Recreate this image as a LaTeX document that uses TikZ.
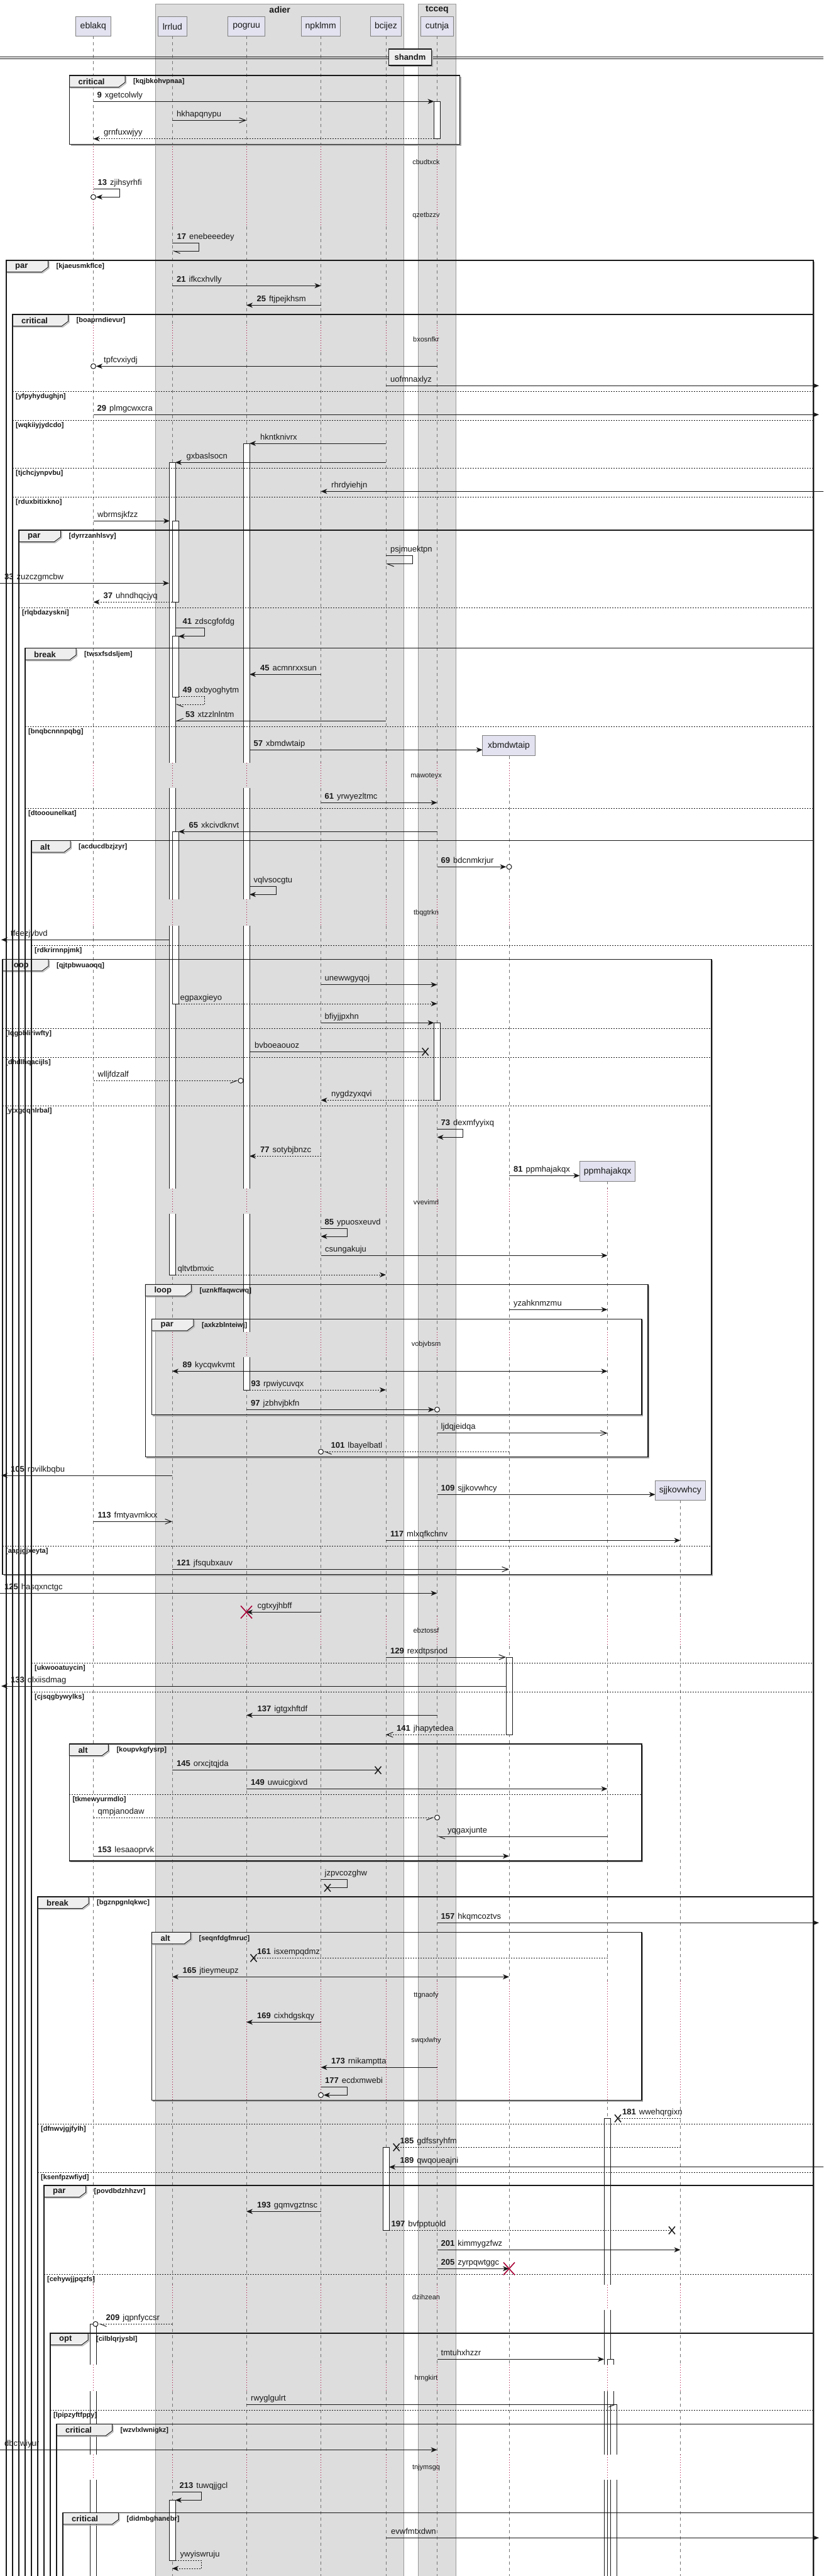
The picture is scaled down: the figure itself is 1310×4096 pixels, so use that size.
\documentclass[tikz,border=0pt]{standalone}
\usepackage{fontspec}
\setmainfont{Liberation Sans}
\usetikzlibrary{arrows.meta}
\definecolor{partfill}{HTML}{E2E2F0}
\definecolor{grpfill}{HTML}{DDDDDD}
\definecolor{tabfill}{HTML}{EEEEEE}
\definecolor{crim}{HTML}{A80036}
\definecolor{ink}{HTML}{181818}
\def\lxE{148.5}\def\lxL{274}\def\lxP{392}\def\lxN{510.5}\def\lxB{614}
\def\lxC{695.5}\def\lxX{810}\def\lxM{966.5}\def\lxS{1082.5}
\tikzset{
  lifeline/.style={draw=black!55, line width=0.6pt, dash pattern=on 5pt off 5pt},
  delayline/.style={draw=crim, line width=0.8pt, dash pattern=on 1pt off 3pt},
  msg/.style={draw=ink, line width=1pt},
  ret/.style={draw=ink, line width=1pt, dash pattern=on 2pt off 2pt},
  fa/.style={-{Stealth[length=10pt,width=8pt,inset=3pt]}},
  fab/.style={{Stealth[length=10pt,width=8pt,inset=3pt]}-{Stealth[length=10pt,width=8pt,inset=3pt]}},
  oa/.style={-{Straight Barb[length=10pt,width=8pt]}},
  ha/.style={-{Straight Barb[harpoon,length=10pt,width=8pt]}},
  hs/.style={-{Straight Barb[harpoon,swap,length=10pt,width=8pt]}},
  mlab/.style={anchor=base west, inner sep=0pt, font=\fontsize{13}{15}\selectfont, text=ink},
  dtext/.style={inner sep=0pt, font=\fontsize{11}{13}\selectfont, text=ink},
  ptext/.style={inner sep=0pt, font=\fontsize{14}{16}\selectfont, text=ink},
  partbox/.style={draw=black!50, line width=1pt, fill=partfill},
  grpbox/.style={draw=black!40, line width=0.8pt, fill=grpfill},
  gtitle/.style={inner sep=0pt, font=\bfseries\fontsize{14}{16}\selectfont, text=ink},
  ftab/.style={anchor=west, inner sep=0pt, font=\bfseries\fontsize{13}{15}\selectfont, text=ink},
  fcond/.style={anchor=west, inner sep=0pt, font=\bfseries\fontsize{11}{13}\selectfont, text=ink},
  actl/.style={draw=ink, line width=0.9pt},
}
\newcommand\SqLife[2]{%
  \foreach \qA/\qB in {57.3/233,360/516.7,560/1213,1253/1430,1472/1890,1930/2118,2158/2570,2617/3150,3340/3633,3673/3760,3802/3903,3943/4120}{%
    \pgfmathsetmacro\lsA{max(\qA,#2)}%
    \pgfmathtruncatemacro\lsOk{\qB>\lsA}%
    \ifnum\lsOk=1 \draw[lifeline] (#1,\lsA) -- (#1,\qB);\fi}%
  \foreach \qA/\qB in {233/360,516.7/560,1213/1253,1430/1472,1890/1930,2118/2158,2570/2617,3150/3340,3633/3673,3760/3802,3903/3943}{%
    \pgfmathsetmacro\lsA{max(\qA,#2)}%
    \pgfmathtruncatemacro\lsOk{\qB>\lsA}%
    \ifnum\lsOk=1 \draw[delayline] (#1,\lsA) -- (#1,\qB);\fi}%
}
\newcommand\SqTab[5]{%
  \draw[black!30, line width=1.2pt] (#1+#4+1.5,#2+2) -- (#1+#4+1.5,#2+12.5) -- (#1+#4-8.5,#2+20) -- (#1+1.5,#2+20);
  \draw[ink, line width=1pt, fill=tabfill] (#1,#2) -- (#1+#4,#2) -- (#1+#4,#2+11) -- (#1+#4-10,#2+18.5) -- (#1,#2+18.5) -- cycle;
  \node[ftab] at (#1+14,#2+10) {#3};
  \node[fcond] at (#1+#4+13,#2+10) {#5};
}
\newcommand\SqFrame[4]{%
  \draw[black!35, line width=1.5pt] (#3+1.5,#2+2) -- (#3+1.5,#4+1.5) -- (#1+2,#4+1.5);
  \draw[ink, line width=1.5pt] (#1,#2) rectangle (#3,#4);
}
\newcommand\SqSep[4]{%
  \draw[ink, line width=0.8pt, dash pattern=on 2pt off 2pt] (#1,#3) -- (#2,#3);
  \node[fcond] at (#1+5,#3+8.5) {#4};
}
\newcommand\SqDelay[2]{\node[dtext] at (678,#1) {#2};}
\newcommand\SqAct[3]{\draw[actl, fill=white] (#1,#2) rectangle (#1+10,#3);}
\newcommand\SqActS[3]{\fill[white] (#1,#2) rectangle (#1+10,#3); \draw[actl] (#1,#2) -- (#1,#3) (#1+10,#2) -- (#1+10,#3);}
\newcommand\SqCap[2]{\draw[actl] (#1,#2) -- (#1+10,#2);}
\newcommand\SqML[3]{\node[mlab] at (#1,#2-6) {#3};}
\newcommand\SqNB[2]{\textbf{#1}\hspace{5pt}#2}
\newcommand\SqX[2]{\draw[ink,line width=1.5pt] (#1-5,#2-6) -- (#1+5,#2+6) (#1-5,#2+6) -- (#1+5,#2-6);}
\newcommand\SqRX[2]{\draw[crim,line width=1.6pt] (#1-9,#2-10) -- (#1+9,#2+10) (#1-9,#2+10) -- (#1+9,#2-10);}
\newcommand\SqO[2]{\draw[ink,line width=1pt,fill=white] (#1,#2) circle[radius=4];}
\newcommand\SqPart[6]{\draw[partbox] (#1,#2) rectangle (#3,#4); \node[ptext] (#6) at ({(#1+#3)/2},{(#2+#4)/2}) {#5};}
\begin{document}
\begin{tikzpicture}[x=1pt,y=-1pt]
\useasboundingbox (0,0) rectangle (1310,4096);
\clip (0,0) rectangle (1310,4096);
\fill[white] (0,0) rectangle (1310,4096);
% group boxes
\draw[grpbox] (247.7,6) rectangle (642.7,4130);
\node[gtitle] (adier) at (445.2,15.5) {adier};
\draw[grpbox] (665.5,6) rectangle (725.6,4130);
\node[gtitle] (tcceq) at (695.5,15.5) {tcceq};
% lifelines
\SqLife{\lxE}{57.3}\SqLife{\lxL}{57.3}\SqLife{\lxP}{57.3}\SqLife{\lxN}{57.3}
\SqLife{\lxB}{57.3}\SqLife{\lxC}{57.3}\SqLife{\lxX}{1201.7}\SqLife{\lxM}{1878.3}\SqLife{\lxS}{2385.3}
% divider
\draw[ink, line width=0.9pt] (0,90) -- (1310,90) (0,93.5) -- (1310,93.5);
\draw[black!35,line width=1.5pt] (688,80) -- (688,105.5) -- (620.5,105.5);
\draw[ink,line width=1.5pt,fill=tabfill] (618.5,78) rectangle (686.4,104);
\node[gtitle, font=\bfseries\fontsize{13}{15}\selectfont] (shandm) at (652.5,91) {shandm};
% activations
\SqAct{690.5}{161.3}{220.7}
\SqActS{387}{705}{1213}\SqCap{387}{705}\SqActS{387}{1253}{1430}\SqActS{387}{1472}{1890}\SqActS{387}{1930}{2118}\SqActS{387}{2158}{2210}\SqCap{387}{2210}
\SqActS{269}{735.3}{1213}\SqCap{269}{735.3}\SqActS{269}{1253}{1430}\SqActS{269}{1472}{1890}\SqActS{269}{1930}{2027}\SqCap{269}{2027}
\SqAct{274}{828.3}{957.3}
\SqAct{274}{1011.7}{1108.3}
\SqActS{274}{1322.3}{1430}\SqCap{274}{1322.3}\SqActS{274}{1472}{1596}\SqCap{274}{1596}
\SqAct{690.5}{1626.3}{1749.3}
\SqAct{805}{2635}{2758.3}
\SqActS{961}{3368.3}{3633}\SqCap{961}{3368.3}\SqActS{961}{3673}{3760}\SqActS{961}{3802}{3903}\SqActS{961}{3943}{4130}
\SqAct{609}{3414.3}{3546.3}
\SqActS{143.5}{3695.3}{3760}\SqCap{143.5}{3695.3}\SqActS{143.5}{3802}{3903}\SqActS{143.5}{3943}{4130}
\SqActS{966}{3751.3}{3760}\SqCap{966}{3751.3}\SqActS{966}{3802}{3903}\SqActS{966}{3943}{4130}
\SqActS{971}{3823.3}{3903}\SqCap{971}{3823.3}\SqActS{971}{3943}{4130}
\SqAct{269}{3975.3}{4071.3}
% frame tabs and separators
\SqTab{110.5}{120}{critical}{88.5}{[kqjbkohvpnaa]}
\SqTab{10}{414}{par}{66.5}{[kjaeusmkflce]}
\SqTab{20}{500}{critical}{88.5}{[boaprndievur]}
\SqSep{20}{1294}{622}{[yfpyhydughjn]}
\SqSep{20}{1294}{668}{[wqkiiyjydcdo]}
\SqSep{20}{1294}{744}{[tjchcjynpvbu]}
\SqSep{20}{1294}{790}{[rduxbitixkno]}
\SqTab{30}{843}{par}{66.5}{[dyrrzanhlsvy]}
\SqSep{30}{1294}{966.3}{[rlqbdazyskni]}
\SqTab{40}{1030.7}{break}{81}{[twsxfsdsljem]}
\SqSep{40}{1294}{1155.3}{[bnqbcnnnpqbg]}
\SqSep{40}{1294}{1285.3}{[dtooounelkat]}
\SqTab{50}{1336.7}{alt}{62}{[acducdbzjzyr]}
\SqSep{50}{1294}{1503}{[rdkrirnnpjmk]}
\SqTab{4}{1525.3}{loop}{73}{[qjtpbwuaoqq]}
\SqSep{4}{1132}{1635}{[lqgobliriwfty]}
\SqSep{4}{1132}{1681}{[dhdlhqacijls]}
\SqSep{4}{1132}{1758.3}{[ytxgdqnlrbal]}
\SqSep{4}{1132}{2458.3}{[aapjgjxeyta]}
\SqTab{231.4}{2042.3}{loop}{73}{[uznkffaqwcwq]}
\SqTab{241.4}{2097.3}{par}{66.5}{[axkzblnteiwj]}
\SqSep{50}{1294}{2644}{[ukwooatuycin]}
\SqSep{50}{1294}{2690.3}{[cjsqgbywylks]}
\SqTab{110.3}{2773}{alt}{62}{[koupvkgfysrp]}
\SqSep{110.3}{1021}{2853.3}{[tkmewyurmdlo]}
\SqTab{60}{3016}{break}{81}{[bgznpgnlqkwc]}
\SqTab{241.4}{3072.3}{alt}{62}{[seqnfdgfmruc]}
\SqSep{60}{1294}{3377.3}{[dfnwvjgjfylh]}
\SqSep{60}{1294}{3454.3}{[ksenfpzwfiyd]}
\SqTab{70}{3475}{par}{66.5}{[povdbdzhhzvr]}
\SqSep{70}{1294}{3616}{[cehywjjpqzfs]}
\SqTab{80}{3710}{opt}{60}{[cilblqrjysbl]}
\SqSep{80}{1294}{3832.3}{[lpipzyftfppy]}
\SqTab{90}{3854.3}{critical}{88.5}{[wzvlxlwnigkz]}
\SqTab{100}{3995.3}{critical}{88.5}{[didmbghanebr]}
% frame borders
\SqFrame{110.5}{120}{731.5}{229.3}
\SqFrame{4}{1525.3}{1132}{2503.3}
\SqFrame{231.4}{2042.3}{1031}{2316.3}
\SqFrame{241.4}{2097.3}{1021}{2249.3}
\SqFrame{110.3}{2773}{1021}{2959}
\SqFrame{241.4}{3072.3}{1021}{3339.3}
\SqFrame{100}{3995.3}{1294}{4130}
\SqFrame{90}{3854.3}{1294}{4130}
\SqFrame{80}{3710}{1294}{4130}
\SqFrame{70}{3475}{1294}{4130}
\SqFrame{60}{3016}{1294}{4130}
\SqFrame{50}{1336.7}{1294}{4130}
\SqFrame{40}{1030.7}{1294}{4130}
\SqFrame{30}{843}{1294}{4130}
\SqFrame{20}{500}{1294}{4130}
\SqFrame{10}{414}{1294}{4130}
% messages
\draw[msg,fa] (\lxE,161.3) -- (690.5,161.3); \SqML{154.5}{161.3}{\SqNB{9}{xgetcolwly}}
\draw[msg,oa] (\lxL,191.3) -- (\lxP,191.3); \SqML{281}{191.3}{hkhapqnypu}
\draw[ret,fa] (690.5,220.7) -- (\lxE,220.7); \SqML{165}{220.7}{grnfuxwjyy}
\SqDelay{258}{cbudtxck}
\draw[msg,fa] (\lxE,300) -- (190.5,300) -- (190.5,313.3) -- (153,313.3); \SqO{\lxE}{313.3} \SqML{155.5}{300}{\SqNB{13}{zjihsyrhfi}}
\SqDelay{343}{qzetbzzv}
\draw[msg,ha] (\lxL,386.7) -- (316.5,386.7) -- (316.5,399) -- (\lxL,399); \SqML{281.5}{386.7}{\SqNB{17}{enebeeedey}}
\draw[msg,fa] (\lxL,454.3) -- (\lxN,454.3); \SqML{281}{454.3}{\SqNB{21}{ifkcxhvlly}}
\draw[msg,fa] (\lxN,485.3) -- (\lxP,485.3); \SqML{408.5}{485.3}{\SqNB{25}{ftjpejkhsm}}
\SqDelay{540}{bxosnfkr}
\draw[msg,fa] (\lxC,582.3) -- (153,582.3); \SqO{\lxE}{582.3} \SqML{165}{582.3}{tpfcvxiydj}
\draw[msg,fa] (\lxB,613.3) -- (1303,613.3); \SqML{621}{613.3}{uofmnaxlyz}
\draw[msg,fa] (\lxE,659.3) -- (1303,659.3); \SqML{154.5}{659.3}{\SqNB{29}{plmgcwxcra}}
\draw[msg,fa] (\lxB,705) -- (397,705); \SqML{414}{705}{hkntknivrx}
\draw[msg,fa] (\lxB,735.3) -- (279,735.3); \SqML{296.5}{735.3}{gxbaslsocn}
\draw[msg,fa] (1315,781.3) -- (\lxN,781.3); \SqML{527}{781.3}{rhrdyiehjn}
\draw[msg,fa] (\lxE,828.3) -- (270,828.3); \SqML{155}{828.3}{wbrmsjkfzz}
\draw[msg,ha] (\lxB,883.3) -- (656,883.3) -- (656,896.7) -- (\lxB,896.7); \SqML{621}{883.3}{psjmuektpn}
\draw[msg,fa] (0,927.3) -- (269,927.3); \SqML{7}{927.3}{\SqNB{33}{zuzczgmcbw}}
\draw[ret,fa] (274,957.3) -- (\lxE,957.3); \SqML{164.5}{957.3}{\SqNB{37}{uhndhqcjyq}}
\draw[msg,fa] (279,998.3) -- (325.8,998.3) -- (325.8,1011.7) -- (284,1011.7); \SqML{290.5}{998.3}{\SqNB{41}{zdscgfofdg}}
\draw[msg,fa] (\lxN,1072.3) -- (397,1072.3); \SqML{414}{1072.3}{\SqNB{45}{acmnrxxsun}}
\draw[ret,ha] (284,1107.7) -- (325.8,1107.7) -- (325.8,1120) -- (279,1120); \SqML{290.5}{1107.7}{\SqNB{49}{oxbyoghytm}}
\draw[msg,hs] (\lxB,1146.3) -- (279,1146.3); \SqML{295}{1146.3}{\SqNB{53}{xtzzlnlntm}}
\draw[msg,fa] (397,1192.3) -- (767.8,1192.3); \SqML{403.5}{1192.3}{\SqNB{57}{xbmdwtaip}}
\SqDelay{1234}{mawoteyx}
\draw[msg,fa] (\lxN,1276.3) -- (\lxC,1276.3); \SqML{516.5}{1276.3}{\SqNB{61}{yrwyezltmc}}
\draw[msg,fa] (\lxC,1322.3) -- (284,1322.3); \SqML{300.5}{1322.3}{\SqNB{65}{xkcivdknvt}}
\draw[msg,fa] (\lxC,1378.3) -- (805.5,1378.3); \SqO{\lxX}{1378.3} \SqML{701.5}{1378.3}{\SqNB{69}{bdcnmkrjur}}
\draw[msg,fa] (397,1409.3) -- (439.4,1409.3) -- (439.4,1422.3) -- (397,1422.3); \SqML{403.5}{1409.3}{vqlvsocgtu}
\SqDelay{1452}{tbqgtrkn}
\draw[msg,fa] (269,1494.3) -- (2,1494.3); \SqML{17}{1494.3}{tfeezjvbvd}
\draw[msg,fa] (\lxN,1565.7) -- (\lxC,1565.7); \SqML{516.5}{1565.7}{unewwgyqoj}
\draw[ret,fa] (284,1596) -- (\lxC,1596); \SqML{286.5}{1596}{egpaxgieyo}
\draw[msg,fa] (\lxN,1626.3) -- (690.5,1626.3); \SqML{516.5}{1626.3}{bfiyjjpxhn}
\draw[msg] (397,1672.3) -- (676.7,1672.3); \SqX{676.7}{1672.3} \SqML{405}{1672.3}{bvboeaouoz}
\draw[ret,hs] (\lxE,1718.3) -- (379,1718.3); \SqO{383}{1718.3} \SqML{155.5}{1718.3}{wlljfdzalf}
\draw[ret,fa] (690.5,1749.3) -- (\lxN,1749.3); \SqML{527}{1749.3}{nygdzyxqvi}
\draw[msg,fa] (\lxC,1795.3) -- (736.8,1795.3) -- (736.8,1808.3) -- (\lxC,1808.3); \SqML{701.5}{1795.3}{\SqNB{73}{dexmfyyixq}}
\draw[ret,fa] (\lxN,1838.3) -- (397,1838.3); \SqML{414}{1838.3}{\SqNB{77}{sotybjbnzc}}
\draw[msg,fa] (\lxX,1869.3) -- (922.3,1869.3); \SqML{817}{1869.3}{\SqNB{81}{ppmhajakqx}}
\SqDelay{1912}{vvevimrl}
\draw[msg,fa] (\lxN,1953.3) -- (552.2,1953.3) -- (552.2,1966) -- (\lxN,1966); \SqML{516.5}{1953.3}{\SqNB{85}{ypuosxeuvd}}
\draw[msg,fa] (\lxN,1996.3) -- (\lxM,1996.3); \SqML{517}{1996.3}{csungakuju}
\draw[ret,fa] (279,2027) -- (\lxB,2027); \SqML{282.5}{2027}{qltvtbmxic}
\draw[msg,fa] (\lxX,2082.3) -- (\lxM,2082.3); \SqML{817}{2082.3}{yzahknmzmu}
\SqDelay{2138}{vobjvbsm}
\draw[msg,fab] (\lxL,2180.3) -- (\lxM,2180.3); \SqML{290.5}{2180.3}{\SqNB{89}{kycqwkvmt}}
\draw[ret,fa] (397,2210) -- (\lxB,2210); \SqML{399.5}{2210}{\SqNB{93}{rpwiycuvqx}}
\draw[msg,fa] (\lxP,2241.3) -- (691,2241.3); \SqO{\lxC}{2241.3} \SqML{399}{2241.3}{\SqNB{97}{jzbhvjbkfn}}
\draw[msg,oa] (\lxC,2278.7) -- (\lxM,2278.7); \SqML{701.5}{2278.7}{ljdqjeidqa}
\draw[ret,ha] (\lxX,2308.3) -- (515,2308.3); \SqO{\lxN}{2308.3} \SqML{526.5}{2308.3}{\SqNB{101}{lbayelbatl}}
\draw[msg,fa] (\lxL,2346) -- (2,2346); \SqML{17}{2346}{\SqNB{105}{rpvilkbqbu}}
\draw[msg,fa] (\lxC,2376.3) -- (1042.6,2376.3); \SqML{701.5}{2376.3}{\SqNB{109}{sjjkovwhcy}}
\draw[msg,oa] (\lxE,2419.3) -- (\lxL,2419.3); \SqML{155.5}{2419.3}{\SqNB{113}{fmtyavmkxx}}
\draw[msg,fa] (\lxB,2449.3) -- (\lxS,2449.3); \SqML{621}{2449.3}{\SqNB{117}{mlxqfkchnv}}
\draw[msg,oa] (\lxL,2495.3) -- (\lxX,2495.3); \SqML{281}{2495.3}{\SqNB{121}{jfsqubxauv}}
\draw[msg,fa] (0,2533.3) -- (\lxC,2533.3); \SqML{7}{2533.3}{\SqNB{125}{hasqxnctgc}}
\draw[msg,fa] (\lxN,2563.3) -- (\lxP,2563.3); \SqRX{\lxP}{2563.3} \SqML{409.5}{2563.3}{cgtxyjhbff}
\SqDelay{2593}{ebztossf}
\draw[msg,oa] (\lxB,2635) -- (805,2635); \SqML{621}{2635}{\SqNB{129}{rexdtpsnod}}
\draw[msg,fa] (805,2681) -- (2,2681); \SqML{17}{2681}{\SqNB{133}{qlxiisdmag}}
\draw[msg,fa] (\lxC,2727.3) -- (\lxP,2727.3); \SqML{409.5}{2727.3}{\SqNB{137}{igtgxhftdf}}
\draw[ret,oa] (815,2758.3) -- (\lxB,2758.3); \SqML{631}{2758.3}{\SqNB{141}{jhapytedea}}
\draw[msg] (\lxL,2814.7) -- (601.5,2814.7); \SqX{601.5}{2814.7} \SqML{281}{2814.7}{\SqNB{145}{orxcjtqjda}}
\draw[msg,fa] (\lxP,2844.3) -- (\lxM,2844.3); \SqML{399}{2844.3}{\SqNB{149}{uwuicgixvd}}
\draw[ret,hs] (\lxE,2890) -- (691,2890); \SqO{\lxC}{2890} \SqML{155.5}{2890}{qmpjanodaw}
\draw[msg,ha] (\lxM,2920) -- (\lxC,2920); \SqML{712}{2920}{yqgaxjunte}
\draw[msg,fa] (\lxE,2951.3) -- (\lxX,2951.3); \SqML{155.5}{2951.3}{\SqNB{153}{lesaaoprvk}}
\draw[msg] (\lxN,2988.3) -- (552.2,2988.3) -- (552.2,3001.7) -- (521,3001.7); \SqX{521}{3001.7} \SqML{516.5}{2988.3}{jzpvcozghw}
\draw[msg,fa] (\lxC,3057.3) -- (1303,3057.3); \SqML{701.5}{3057.3}{\SqNB{157}{hkqmcoztvs}}
\draw[ret] (\lxM,3113.3) -- (403.5,3113.3); \SqX{403.5}{3113.3} \SqML{409}{3113.3}{\SqNB{161}{isxempqdmz}}
\draw[msg,fab] (\lxL,3143.3) -- (\lxX,3143.3); \SqML{290.5}{3143.3}{\SqNB{165}{jtieymeupz}}
\SqDelay{3173}{ttgnaofy}
\draw[msg,fa] (\lxN,3215.3) -- (\lxP,3215.3); \SqML{409}{3215.3}{\SqNB{169}{cixhdgskqy}}
\SqDelay{3245}{swqxlwhy}
\draw[msg,fa] (\lxC,3287.3) -- (\lxN,3287.3); \SqML{527}{3287.3}{\SqNB{173}{rnikamptta}}
\draw[msg,fa] (\lxN,3318.3) -- (552.2,3318.3) -- (552.2,3331.3) -- (515,3331.3); \SqO{\lxN}{3331.3} \SqML{517}{3318.3}{\SqNB{177}{ecdxmwebi}}
\draw[ret] (\lxS,3368.3) -- (983,3368.3); \SqX{983}{3368.3} \SqML{990}{3368.3}{\SqNB{181}{wwehqrgixn}}
\draw[ret] (\lxS,3414.3) -- (630.7,3414.3); \SqX{630.7}{3414.3} \SqML{636.5}{3414.3}{\SqNB{185}{gdfssryhfm}}
\draw[msg,fa] (1315,3445.7) -- (619,3445.7); \SqML{636.5}{3445.7}{\SqNB{189}{qwqoueajni}}
\draw[msg,fa] (\lxN,3516.3) -- (\lxP,3516.3); \SqML{409}{3516.3}{\SqNB{193}{gqmvgztnsc}}
\draw[ret] (619,3546.3) -- (1069,3546.3); \SqX{1069}{3546.3} \SqML{622.5}{3546.3}{\SqNB{197}{bvfpptuold}}
\draw[msg,fa] (\lxC,3577.3) -- (\lxS,3577.3); \SqML{701.5}{3577.3}{\SqNB{201}{kimmygzfwz}}
\draw[msg,fa] (\lxC,3607.3) -- (\lxX,3607.3); \SqRX{\lxX}{3607.3} \SqML{701.5}{3607.3}{\SqNB{205}{zyrpqwtggc}}
\SqDelay{3653}{dzihzean}
\draw[ret,ha] (\lxL,3695.3) -- (157,3695.3); \SqO{152}{3695.3} \SqML{168.5}{3695.3}{\SqNB{209}{jqpnfyccsr}}
\draw[msg,fa] (\lxC,3751.3) -- (961,3751.3); \SqML{701.5}{3751.3}{tmtuhxhzzr}
\SqDelay{3782}{hrngkirt}
\draw[msg,hs] (\lxP,3823.3) -- (981,3823.3); \SqML{399}{3823.3}{rwyglgulrt}
\draw[msg,fa] (0,3895.3) -- (\lxC,3895.3); \SqML{7}{3895.3}{dbctwiyur}
\SqDelay{3924}{tnjymsgq}
\draw[msg,fa] (\lxL,3962.3) -- (320.8,3962.3) -- (320.8,3975.3) -- (279,3975.3); \SqML{285.5}{3962.3}{\SqNB{213}{tuwqjjgcl}}
\draw[msg,fa] (\lxB,4035.3) -- (1303,4035.3); \SqML{622}{4035.3}{evwfmtxdwn}
\draw[ret,fa] (279,4071.3) -- (320.8,4071.3) -- (320.8,4084) -- (\lxL,4084); \SqML{286.5}{4071.3}{ywyiswruju}
% participants
\SqPart{120.7}{26.7}{176}{57.3}{eblakq}{peblakq}
\SqPart{251.6}{26.7}{297.1}{57.3}{lrrlud}{plrrlud}
\SqPart{362.6}{26.7}{421.7}{57.3}{pogruu}{ppogruu}
\SqPart{479.4}{26.7}{541}{57.3}{npklmm}{pnpklmm}
\SqPart{589.4}{26.7}{638.4}{57.3}{bcijez}{pbcijez}
\SqPart{669.4}{26.7}{721.8}{57.3}{cutnja}{pcutnja}
\SqPart{767.8}{1169.3}{851.3}{1201.7}{xbmdwtaip}{pxbmdwtaip}
\SqPart{922.3}{1846.7}{1010.9}{1878.3}{ppmhajakqx}{pppmhajakqx}
\SqPart{1042.6}{2354.3}{1122}{2385.3}{sjjkovwhcy}{psjjkovwhcy}
\end{tikzpicture}
\end{document}
